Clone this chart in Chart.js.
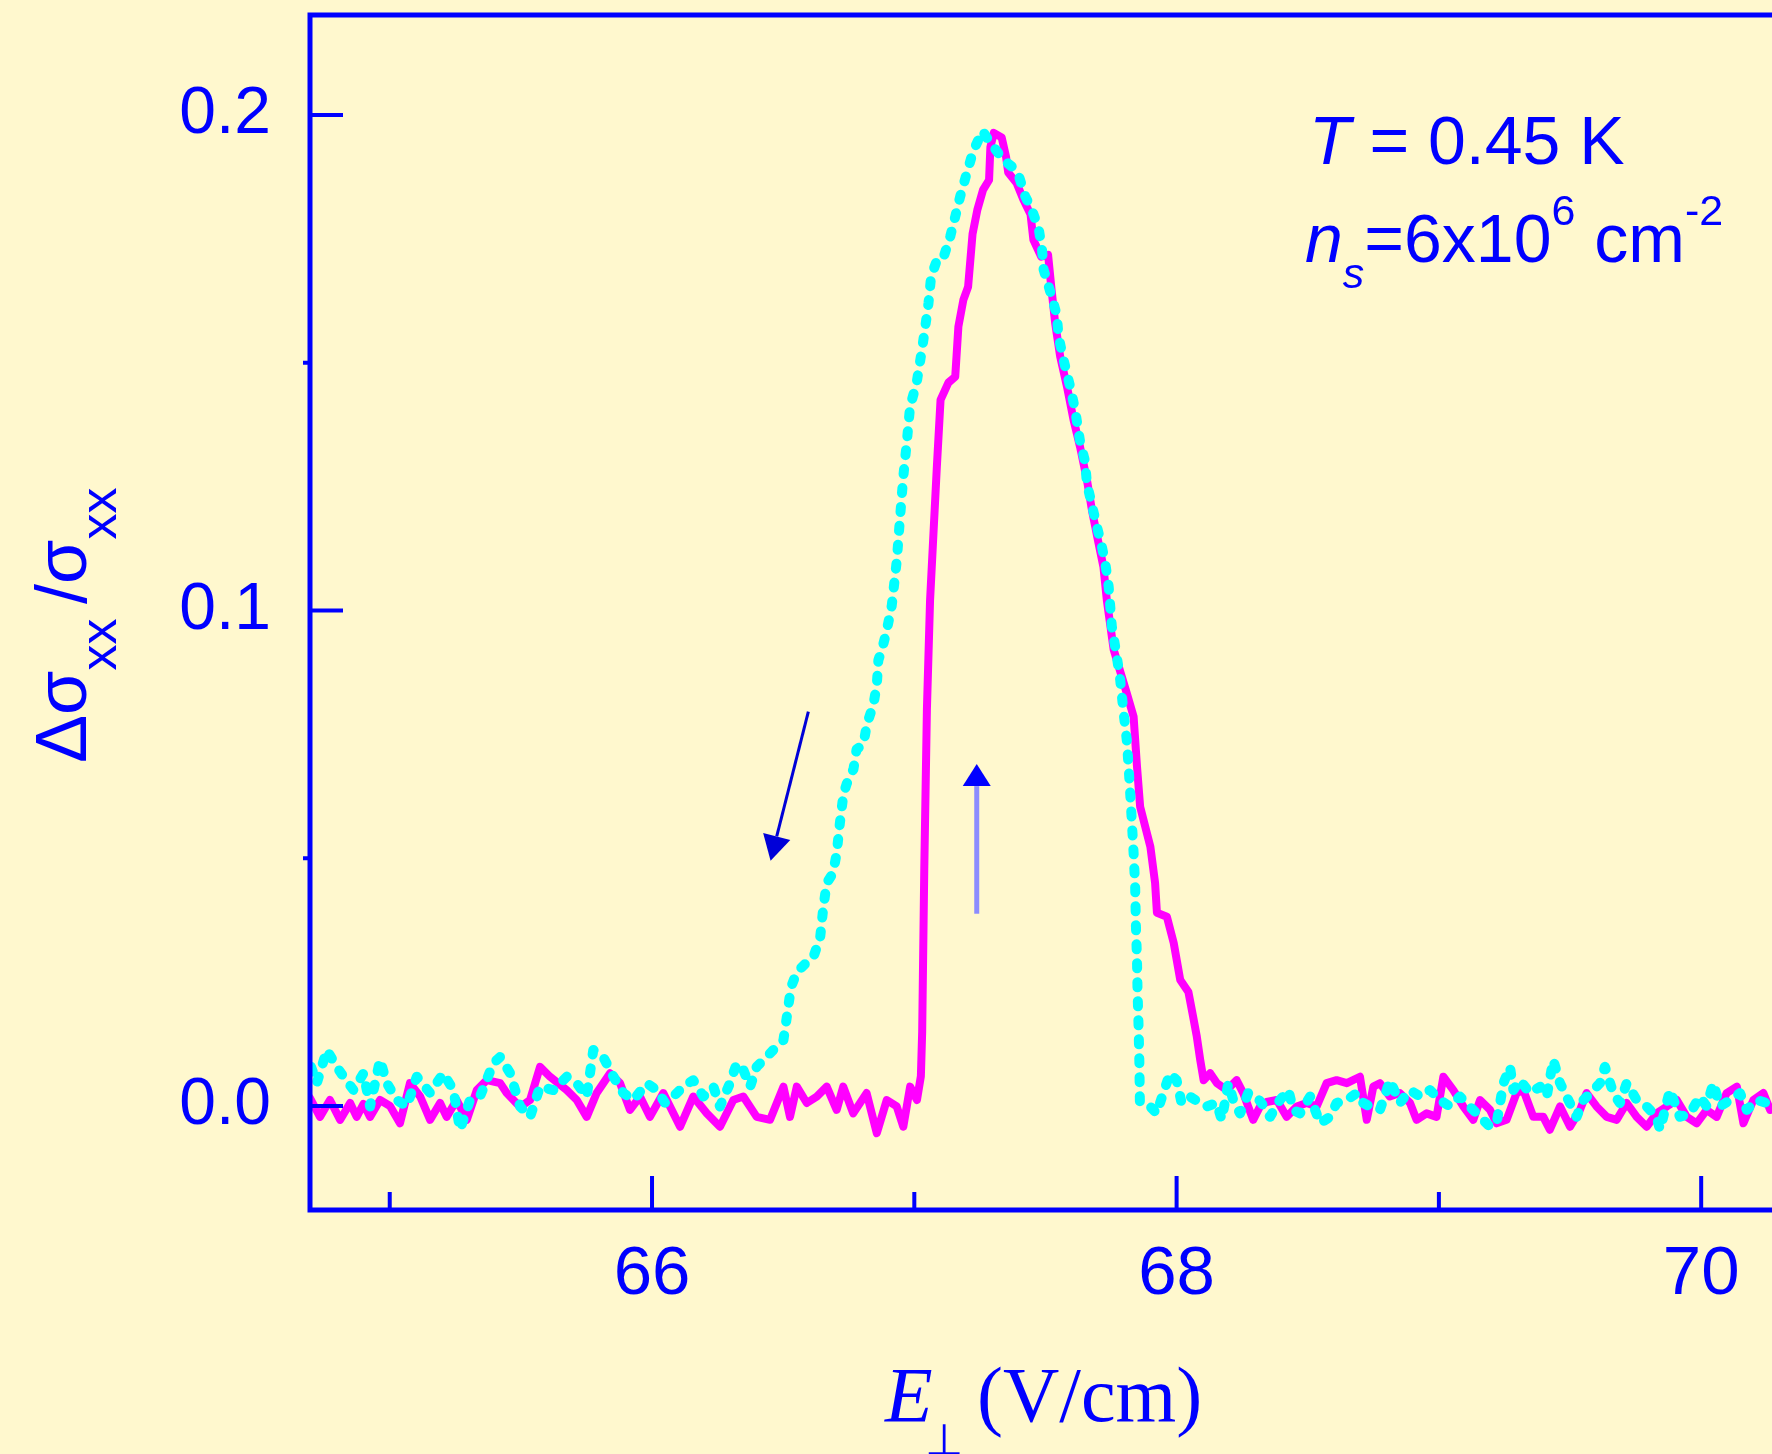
<!DOCTYPE html>
<html>
<head>
<meta charset="utf-8">
<script src="https://cdn.jsdelivr.net/npm/chart.js@4.4.1/dist/chart.umd.min.js"></script>
<style>
  html, body { margin: 0; padding: 0; background: #FFF8CE; }
  canvas { display: block; }
</style>
</head>
<body>
<canvas id="c" width="1772" height="1454"></canvas>
<script>
// ---- data ----
const sweepUpX = [64.696,64.734,64.772,64.811,64.849,64.874,64.900,64.925,64.963,65.001,65.039,65.077,65.116,65.154,65.192,65.217,65.255,65.294,65.332,65.370,65.421,65.446,65.497,65.535,65.573,65.611,65.675,65.713,65.751,65.789,65.840,65.878,65.916,65.954,65.992,66.043,66.107,66.157,66.209,66.259,66.310,66.348,66.399,66.450,66.501,66.526,66.552,66.590,66.628,66.666,66.704,66.729,66.767,66.818,66.857,66.895,66.933,66.958,66.984,67.010,67.025,67.030,67.038,67.048,67.060,67.086,67.100,67.130,67.156,67.168,67.187,67.205,67.222,67.240,67.262,67.285,67.290,67.303,67.333,67.350,67.358,67.390,67.416,67.443,67.454,67.484,67.510,67.522,67.537,67.556,67.582,67.607,67.632,67.658,67.677,67.702,67.721,67.734,67.760,67.810,67.836,67.849,67.861,67.900,67.918,67.925,67.963,67.989,68.014,68.045,68.063,68.077,68.090,68.103,68.128,68.154,68.191,68.229,68.254,68.292,68.318,68.343,68.382,68.420,68.458,68.496,68.534,68.572,68.610,68.649,68.699,68.725,68.750,68.775,68.813,68.851,68.890,68.915,68.953,68.991,69.017,69.055,69.093,69.131,69.157,69.195,69.220,69.258,69.296,69.322,69.360,69.398,69.423,69.462,69.500,69.538,69.563,69.601,69.640,69.678,69.716,69.754,69.792,69.830,69.869,69.907,69.945,69.983,70.021,70.059,70.097,70.136,70.161,70.199,70.237,70.263];
const sweepUpY = [0.0016,-0.0022,0.0012,-0.0028,0.0006,-0.0022,0.0004,-0.0022,0.0012,0.0000,-0.0035,0.0046,0.0019,-0.0028,0.0006,-0.0022,0.0012,-0.0028,0.0032,0.0052,0.0046,0.0026,-0.0002,0.0012,0.0079,0.0059,0.0032,0.0012,-0.0022,0.0026,0.0066,0.0046,-0.0008,0.0019,-0.0022,0.0026,-0.0042,0.0019,-0.0015,-0.0042,0.0012,0.0019,-0.0022,-0.0028,0.0039,-0.0022,0.0039,0.0006,0.0019,0.0039,-0.0008,0.0039,-0.0015,0.0026,-0.0055,0.0012,-0.0001,-0.0042,0.0039,0.0012,0.0060,0.0150,0.0480,0.0800,0.1020,0.1291,0.1425,0.1460,0.1472,0.1573,0.1627,0.1653,0.1760,0.1808,0.1849,0.1869,0.1935,0.1964,0.1955,0.1915,0.1884,0.1863,0.1829,0.1800,0.1748,0.1714,0.1718,0.1654,0.1580,0.1513,0.1452,0.1385,0.1330,0.1264,0.1203,0.1137,0.1088,0.1021,0.0921,0.0833,0.0786,0.0685,0.0604,0.0523,0.0450,0.0390,0.0382,0.0329,0.0254,0.0230,0.0180,0.0140,0.0093,0.0052,0.0066,0.0046,0.0032,0.0052,0.0026,-0.0028,-0.0001,0.0008,0.0012,-0.0022,-0.0001,0.0006,-0.0001,0.0046,0.0052,0.0046,0.0059,-0.0028,0.0039,0.0046,0.0019,0.0026,0.0006,-0.0028,-0.0015,-0.0022,0.0059,0.0032,-0.0001,-0.0028,0.0012,-0.0008,-0.0035,-0.0028,0.0026,0.0032,-0.0022,-0.0022,-0.0048,-0.0001,-0.0042,-0.0008,0.0026,-0.0001,-0.0022,-0.0028,0.0006,-0.0022,-0.0042,-0.0015,-0.0001,0.0012,-0.0022,-0.0035,-0.0008,-0.0022,0.0026,0.0039,-0.0035,0.0012,0.0026,-0.0008];

const sweepDownX = [64.700,64.722,64.760,64.798,64.824,64.862,64.900,64.925,64.963,64.989,65.027,65.065,65.103,65.154,65.204,65.243,65.268,65.306,65.344,65.395,65.421,65.459,65.497,65.535,65.573,65.624,65.675,65.713,65.751,65.776,65.814,65.853,65.891,65.929,65.980,66.018,66.050,66.081,66.119,66.157,66.196,66.234,66.259,66.297,66.323,66.348,66.374,66.399,66.437,66.475,66.501,66.514,66.530,66.552,66.590,66.615,66.641,66.653,66.666,66.690,66.704,66.716,66.730,66.742,66.768,66.780,66.806,66.819,66.844,66.857,66.863,66.876,66.895,66.914,66.933,66.946,66.958,66.971,66.984,67.009,67.029,67.041,67.054,67.064,67.088,67.111,67.137,67.156,67.175,67.200,67.225,67.260,67.285,67.339,67.372,67.397,67.423,67.448,67.474,67.487,67.493,67.518,67.543,67.550,67.569,67.594,67.613,67.632,67.651,67.658,67.677,67.696,67.715,67.728,67.741,67.753,67.772,67.785,67.798,67.810,67.817,67.823,67.829,67.836,67.842,67.845,67.849,67.851,67.855,67.858,67.860,67.899,67.924,67.949,67.975,68.000,68.019,68.051,68.089,68.115,68.153,68.172,68.197,68.216,68.242,68.273,68.305,68.343,68.356,68.394,68.426,68.445,68.470,68.509,68.547,68.585,68.610,68.649,68.687,68.712,68.737,68.775,68.801,68.813,68.851,68.890,68.928,68.966,69.004,69.042,69.080,69.118,69.157,69.195,69.220,69.246,69.271,69.284,69.309,69.347,69.386,69.411,69.436,69.462,69.487,69.525,69.551,69.589,69.614,69.633,69.665,69.690,69.716,69.754,69.792,69.830,69.843,69.881,69.919,69.957,69.995,70.021,70.046,70.072,70.110,70.148,70.174,70.212,70.250,70.270];
const sweepDownY = [0.0079,0.0046,0.0113,0.0079,0.0059,0.0032,0.0066,-0.0001,0.0093,0.0046,0.0012,-0.0001,0.0059,0.0026,0.0066,0.0032,-0.0048,0.0012,0.0019,0.0086,0.0099,0.0066,-0.0001,-0.0022,0.0039,0.0032,0.0059,0.0046,0.0019,0.0113,0.0099,0.0059,0.0026,0.0012,0.0046,0.0032,0.0006,0.0019,0.0039,0.0052,0.0019,0.0039,-0.0001,0.0046,0.0086,0.0073,0.0039,0.0079,0.0099,0.0120,0.0133,0.0180,0.0240,0.0270,0.0290,0.0300,0.0340,0.0400,0.0450,0.0470,0.0510,0.0570,0.0630,0.0650,0.0680,0.0720,0.0730,0.0770,0.0810,0.0850,0.0900,0.0920,0.0960,0.1010,0.1100,0.1190,0.1270,0.1338,0.1412,0.1460,0.1526,0.1570,0.1620,0.1674,0.1710,0.1712,0.1755,0.1795,0.1836,0.1883,0.1928,0.1968,0.1948,0.1910,0.1896,0.1880,0.1836,0.1809,0.1772,0.1728,0.1688,0.1644,0.1597,0.1553,0.1506,0.1452,0.1405,0.1341,0.1301,0.1257,0.1213,0.1170,0.1129,0.1096,0.1048,0.0968,0.0907,0.0860,0.0793,0.0739,0.0685,0.0632,0.0577,0.0511,0.0443,0.0362,0.0295,0.0234,0.0160,0.0090,0.0006,-0.0001,-0.0015,0.0026,0.0066,0.0052,0.0006,0.0019,0.0006,-0.0001,0.0006,-0.0028,0.0046,0.0012,-0.0015,0.0026,0.0019,-0.0008,-0.0022,0.0012,0.0032,-0.0008,-0.0015,0.0019,-0.0035,-0.0022,0.0006,0.0012,0.0026,0.0006,-0.0001,-0.0008,0.0032,0.0052,0.0006,0.0032,0.0019,0.0032,0.0012,-0.0001,0.0019,-0.0001,-0.0022,-0.0042,-0.0035,0.0046,0.0079,0.0032,0.0052,0.0026,0.0039,0.0019,0.0093,0.0046,0.0019,-0.0022,0.0012,0.0032,0.0046,0.0079,0.0026,0.0006,0.0046,0.0012,-0.0001,-0.0022,-0.0048,0.0032,-0.0022,-0.0015,0.0019,-0.0001,0.0046,-0.0001,0.0012,0.0026,-0.0008,0.0012,0.0006,0.0020];

const xMajorTicks = [66, 68, 70];
const xMinorTicks = [65, 67, 69];
const yMajorTicks = [0.0, 0.1, 0.2];
const yMinorTicks = [0.05, 0.15];
const xRange = [64.696, 70.270];
const yRange = [-0.0210, 0.2202];

// arrows (data coordinates: start, tip)
const arrowDownX = [66.596, 66.452];
const arrowDownY = [0.0796, 0.0495];
const arrowUpX = [67.238, 67.238];
const arrowUpY = [0.0388, 0.0690];

// ---- styles ----
const BLUE = '#0000FF';
const BG = '#FFF8CE';
const SANS = '"Liberation Sans", Arial, Helvetica, sans-serif';
const SERIF = '"Liberation Serif", "Times New Roman", serif';

function pts(xs, ys) { return xs.map((x, i) => ({ x: x, y: ys[i] })); }

const framePlugin = {
  id: 'framePlugin',
  beforeDraw(chart) {
    const ctx = chart.ctx;
    ctx.save();
    ctx.fillStyle = BG;
    ctx.fillRect(0, 0, chart.width, chart.height);
    ctx.restore();
  },
  afterDatasetsDraw(chart) {
    const { ctx, chartArea: a, scales } = chart;
    const x = scales.x, y = scales.y;
    ctx.save();
    ctx.strokeStyle = BLUE;
    ctx.lineCap = 'butt';
    ctx.lineWidth = 5;
    ctx.beginPath();
    ctx.moveTo(a.right + 5, a.top);
    ctx.lineTo(a.left, a.top);
    ctx.lineTo(a.left, a.bottom);
    ctx.lineTo(a.right + 5, a.bottom);
    ctx.stroke();
    ctx.lineWidth = 4;
    ctx.beginPath();
    xMajorTicks.forEach(v => { const p = x.getPixelForValue(v); ctx.moveTo(p, a.bottom); ctx.lineTo(p, a.bottom - 34); });
    xMinorTicks.forEach(v => { const p = x.getPixelForValue(v); ctx.moveTo(p, a.bottom); ctx.lineTo(p, a.bottom - 18); });
    yMajorTicks.forEach(v => { const p = y.getPixelForValue(v); ctx.moveTo(a.left, p); ctx.lineTo(a.left + 33, p); });
    yMinorTicks.forEach(v => { const p = y.getPixelForValue(v); ctx.moveTo(a.left, p); ctx.lineTo(a.left - 7, p); });
    ctx.stroke();

    drawArrow(ctx, x.getPixelForValue(arrowDownX[0]), y.getPixelForValue(arrowDownY[0]),
              x.getPixelForValue(arrowDownX[1]), y.getPixelForValue(arrowDownY[1]),
              '#0000D8', '#0000D8', 3, 25, 14);
    drawArrow(ctx, x.getPixelForValue(arrowUpX[0]), y.getPixelForValue(arrowUpY[0]),
              x.getPixelForValue(arrowUpX[1]), y.getPixelForValue(arrowUpY[1]),
              '#8C8CFF', '#0000FF', 5, 22, 14);
    ctx.restore();
  },
  afterDraw(chart) {
    const ctx = chart.ctx;
    ctx.save();
    ctx.fillStyle = BLUE;
    ctx.textBaseline = 'alphabetic';

    // --- Y axis title: Δσxx/σxx (rotated) ---
    ctx.save();
    ctx.translate(86, 763);
    ctx.rotate(-Math.PI / 2);
    let cx = 0;
    const big = 'normal 72px ' + SANS, small = 'normal 52px ' + SANS;
    const parts = [['Δσ', big, 0], ['xx ', small, 30], ['/σ', big, 0], ['xx', small, 30]];
    parts.forEach(p => { ctx.font = p[1]; ctx.textAlign = 'left'; ctx.fillText(p[0], cx, p[2]); cx += ctx.measureText(p[0]).width; });
    ctx.restore();

    // --- X axis title: E⊥ (V/cm) ---
    let px = 885;
    const xb = 1421;
    ctx.textAlign = 'left';
    ctx.font = 'italic 78px ' + SERIF; ctx.fillText('E', px, xb); px += ctx.measureText('E').width;
    ctx.font = 'normal 44px ' + SERIF; ctx.fillText('⊥', px - 8, xb + 34);
    ctx.font = 'normal 78px ' + SERIF; ctx.fillText('(V/cm)', 977, xb);

    // --- annotation ---
    const f = 'normal 68px ' + SANS, fi = 'italic 68px ' + SANS, fs = 'normal 43px ' + SANS, fsi = 'italic 43px ' + SANS;
    let ax = 1309;
    const b1 = 164;
    ctx.font = fi; ctx.fillText('T', ax, b1); ax += ctx.measureText('T').width;
    ctx.font = f; ctx.fillText(' = 0.45 K', ax, b1);

    ax = 1305;
    const b2 = 262;
    const seq = [['n', fi, 0], ['s', fsi, 26], ['=6x10', f, 0], ['6', fs, -37], [' cm', f, 0], ['-2', fs, -37]];
    seq.forEach(s => { ctx.font = s[1]; ctx.fillText(s[0], ax, b2 + s[2]); ax += ctx.measureText(s[0]).width; });
    ctx.restore();
  }
};

function drawArrow(ctx, x0, y0, x1, y1, shaftColor, headColor, lw, headLen, headHalf) {
  const ang = Math.atan2(y1 - y0, x1 - x0);
  const bx = x1 - headLen * Math.cos(ang), by = y1 - headLen * Math.sin(ang);
  ctx.save();
  ctx.strokeStyle = shaftColor;
  ctx.lineWidth = lw;
  ctx.beginPath(); ctx.moveTo(x0, y0); ctx.lineTo(bx, by); ctx.stroke();
  ctx.fillStyle = headColor;
  ctx.beginPath();
  ctx.moveTo(x1, y1);
  ctx.lineTo(bx + headHalf * Math.sin(ang), by - headHalf * Math.cos(ang));
  ctx.lineTo(bx - headHalf * Math.sin(ang), by + headHalf * Math.cos(ang));
  ctx.closePath(); ctx.fill();
  ctx.restore();
}

new Chart(document.getElementById('c'), {
  type: 'scatter',
  data: {
    datasets: [
      {
        label: 'sweep down',
        data: pts(sweepDownX, sweepDownY),
        showLine: true,
        borderColor: '#00FFFF',
        backgroundColor: '#00FFFF',
        borderWidth: 10,
        borderDash: [5, 14],
        borderCapStyle: 'round',
        borderJoinStyle: 'round',
        pointRadius: 0,
        tension: 0,
        order: 0
      },
      {
        label: 'sweep up',
        data: pts(sweepUpX, sweepUpY),
        showLine: true,
        borderColor: '#FF00FF',
        backgroundColor: '#FF00FF',
        borderWidth: 8,
        borderCapStyle: 'round',
        borderJoinStyle: 'round',
        pointRadius: 0,
        tension: 0,
        order: 1
      }
    ]
  },
  options: {
    responsive: false,
    devicePixelRatio: 1,
    animation: false,
    layout: { padding: { top: 15, right: 0, left: 0, bottom: 0 } },
    plugins: { legend: { display: false }, tooltip: { enabled: false } },
    scales: {
      x: {
        type: 'linear',
        position: 'bottom',
        min: xRange[0],
        max: xRange[1],
        grid: { display: false, drawTicks: false },
        border: { display: false },
        afterBuildTicks: s => { s.ticks = xMajorTicks.map(v => ({ value: v })); },
        afterFit: s => { s.height = 244; s.paddingLeft = 0; s.paddingRight = 0; s.paddingTop = 0; s.paddingBottom = 0; },
        ticks: {
          autoSkip: false,
          maxRotation: 0,
          padding: 24,
          color: BLUE,
          font: { family: SANS, size: 69 },
          callback: v => String(v)
        }
      },
      y: {
        type: 'linear',
        min: yRange[0],
        max: yRange[1],
        grid: { display: false, drawTicks: false },
        border: { display: false },
        afterBuildTicks: s => { s.ticks = yMajorTicks.map(v => ({ value: v })); },
        afterFit: s => { s.width = 310; s.paddingTop = 0; s.paddingBottom = 0; s.paddingLeft = 0; s.paddingRight = 0; },
        ticks: {
          padding: 39,
          color: BLUE,
          font: { family: SANS, size: 66 },
          callback: v => Number(v).toFixed(1)
        }
      }
    }
  },
  plugins: [framePlugin]
});
</script>
</body>
</html>
